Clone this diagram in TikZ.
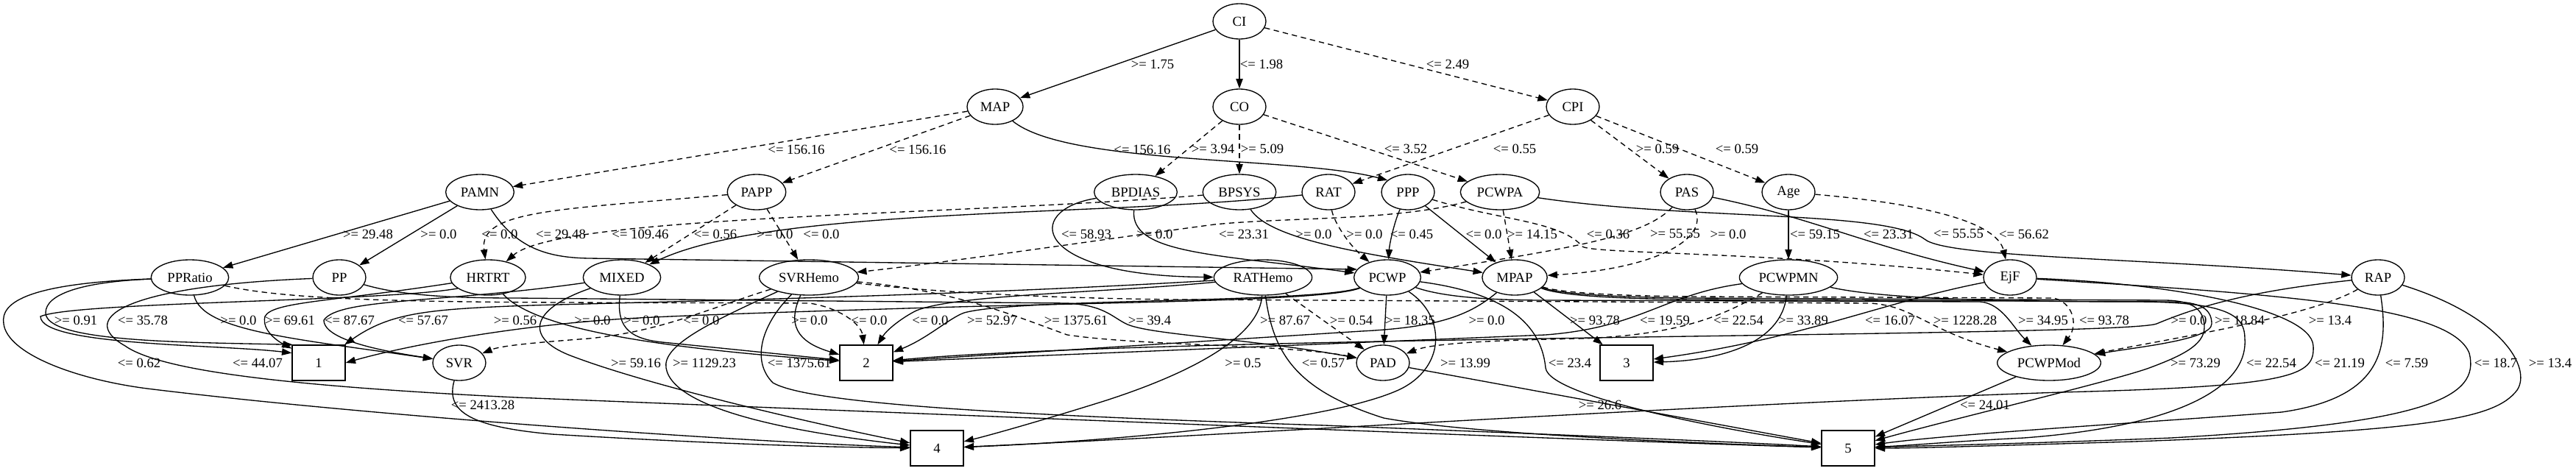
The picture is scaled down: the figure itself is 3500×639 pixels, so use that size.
\documentclass[tikz,border=0pt]{standalone}
\usepackage{fontspec}
\setmainfont{Liberation Serif}
\usepackage{tikz}
\usetikzlibrary{shapes,arrows.meta}
\tikzstyle{feature} = [draw, ellipse, minimum width=54pt, minimum height=36pt, inner xsep=5pt, inner ysep=2pt]
\tikzstyle{leaf} = [draw, rectangle, minimum width=54pt, minimum height=36pt]
\tikzstyle{cond} = [inner sep=0pt]
\tikzstyle{branch} = [draw, ->]
\tikzstyle{dbranch} = [draw, ->, dash pattern=on 5.5pt off 4pt]

\begin{document}
\begin{tikzpicture}[x=0.75pt, y=-0.75pt, line width=1pt, >={Triangle[length=10pt,width=7pt]}, every node/.style={font=\fontsize{14}{16}\selectfont}]
    \fill [white] (0,0) rectangle (3500,639);
    \useasboundingbox (0,0) rectangle (3500,639);

    % the split nodes, row by row
    \node [feature] (CI) at (1684,29) {CI};
    \node [feature] (MAP) at (1352,145) {MAP};
    \node [feature] (CO) at (1684,145) {CO};
    \node [feature] (CPI) at (2137,145) {CPI};
    \node [feature] (PAMN) at (652,261) {PAMN};
    \node [feature] (PAPP) at (1028,261) {PAPP};
    \node [feature] (BPDIAS) at (1543,261) {BPDIAS};
    \node [feature] (BPSYS) at (1684,261) {BPSYS};
    \node [feature] (RAT) at (1805,261) {RAT};
    \node [feature] (PPP) at (1913,261) {PPP};
    \node [feature] (PCWPA) at (2038,261) {PCWPA};
    \node [feature] (PAS) at (2292,261) {PAS};
    \node [feature] (Age) at (2430,261) {Age};
    \node [feature] (PPRatio) at (258,377) {PPRatio};
    \node [feature] (PP) at (461,377) {PP};
    \node [feature] (HRTRT) at (663,377) {HRTRT};
    \node [feature] (MIXED) at (845,377) {MIXED};
    \node [feature] (SVRHemo) at (1099,377) {SVRHemo};
    \node [feature] (RATHemo) at (1716,377) {RATHemo};
    \node [feature] (PCWP) at (1885,377) {PCWP};
    \node [feature] (MPAP) at (2058,377) {MPAP};
    \node [feature] (PCWPMN) at (2430,377) {PCWPMN};
    \node [feature] (EjF) at (2731,377) {EjF};
    \node [feature] (RAP) at (3231,377) {RAP};
    \node [leaf] (l1) at (433,493) {1};
    \node [feature] (SVR) at (624,493) {SVR};
    \node [leaf] (l2) at (1177,493) {2};
    \node [feature] (PAD) at (1879,493) {PAD};
    \node [leaf] (l3) at (2210,493) {3};
    \node [feature] (PCWPMod) at (2784,493) {PCWPMod};
    \node [leaf] (l4) at (1273,609) {4};
    \node [leaf] (l5) at (2511,609) {5};

    % upper splits
    \draw [branch] (CI) -- (MAP) node[cond] at (1566,87) {>= 1.75};
    \draw [branch] (CI) -- (CO) node[cond] at (1714,87) {<= 1.98};
    \draw [dbranch] (CI) -- (CPI) node[cond] at (1967,87) {<= 2.49};
    \draw [dbranch] (MAP) -- (PAMN) node[cond] at (1082,203) {<= 156.16};
    \draw [dbranch] (MAP) -- (PAPP) node[cond] at (1247,203) {<= 156.16};
    \draw [branch] (MAP) .. controls (1450,225) and (1760,212) .. (PPP.150) node[cond] at (1552,203) {<= 156.16};
    \draw [dbranch] (CO) -- (BPDIAS) node[cond] at (1648,202) {>= 3.94};
    \draw [dbranch] (CO) -- (BPSYS) node[cond] at (1715,202) {>= 5.09};
    \draw [dbranch] (CO) -- (PCWPA) node[cond] at (1910,202) {<= 3.52};
    \draw [dbranch] (CPI) -- (RAT) node[cond] at (2058,202) {<= 0.55};
    \draw [dbranch] (CPI) -- (PAS) node[cond] at (2252,202) {>= 0.59};
    \draw [dbranch] (CPI) -- (Age) node[cond] at (2360,202) {<= 0.59};

    % third row to fourth row
    \draw [branch] (PAMN) -- (PPRatio) node[cond] at (500,318) {>= 29.48};
    \draw [branch] (PAMN) -- (PP) node[cond] at (596,318) {>= 0.0};
    \draw [branch] (PAMN) .. controls (700,335) and (740,350) .. (800,351) -- (PCWP.165) node[cond] at (762,318) {<= 29.48};
    \draw [dbranch] (PAPP) .. controls (760,285) and (650,285) .. (HRTRT) node[cond] at (679,318) {<= 0.0};
    \draw [dbranch] (BPSYS) .. controls (1300,293) and (760,292) .. (HRTRT) node[cond] at (870,318) {<= 109.46};
    \draw [dbranch] (PAPP) -- (MIXED) node[cond] at (972,318) {<= 0.56};
    \draw [branch] (RAT) .. controls (1500,295) and (1050,280) .. (MIXED) node[cond] at (1053,318) {>= 0.0};
    \draw [dbranch] (PAPP) -- (SVRHemo) node[cond] at (1116,318) {<= 0.0};
    \draw [branch] (BPDIAS) .. controls (1390,285) and (1400,375) .. (RATHemo) node[cond] at (1476,318) {<= 58.93};
    \draw [branch] (BPDIAS) .. controls (1535,345) and (1650,345) .. (PCWP) node[cond] at (1569,318) {>= 0.0};
    \draw [dbranch] (PCWPA) .. controls (1900,300) and (1750,295) .. (1650,305) .. controls (1550,318) and (1300,355) .. (SVRHemo) node[cond] at (1690,318) {<= 23.31};
    \draw [branch] (BPSYS) .. controls (1725,325) and (1850,345) .. (MPAP) node[cond] at (1785,318) {>= 0.0};
    \draw [dbranch] (RAT) .. controls (1812,300) and (1830,330) .. (PCWP) node[cond] at (1854,318) {>= 0.0};
    \draw [branch] (PPP) .. controls (1895,300) and (1888,330) .. (PCWP) node[cond] at (1918,318) {<= 0.45};
    \draw [branch] (PPP) -- (MPAP) node[cond] at (2016,318) {<= 0.0};
    \draw [dbranch] (PCWPA) -- (MPAP) node[cond] at (2082,318) {>= 14.15};
    \draw [dbranch] (PPP) .. controls (2040,300) and (2120,300) .. (2150,335) .. controls (2165,345) and (2400,342) .. (EjF) node[cond] at (2185,318) {<= 0.36};
    \draw [dbranch] (PAS) .. controls (2235,320) and (2150,335) .. (PCWP) node[cond] at (2276,318) {>= 55.55};
    \draw [dbranch] (PAS) .. controls (2322,325) and (2250,365) .. (MPAP) node[cond] at (2348,318) {>= 0.0};
    \draw [branch] (Age) -- (PCWPMN) node[cond] at (2466,318) {<= 59.15};
    \draw [branch] (PAS) .. controls (2460,295) and (2540,335) .. (EjF) node[cond] at (2566,318) {<= 23.31};
    \draw [branch] (PCWPA) .. controls (2300,300) and (2560,285) .. (2615,325) .. controls (2645,350) and (2900,350) .. (RAP) node[cond] at (2661,318) {<= 55.55};
    \draw [dbranch] (Age) .. controls (2650,280) and (2715,310) .. (EjF) node[cond] at (2750,318) {<= 56.62};

    % fourth row to the leaves, left part
    \draw [branch] (PPRatio) .. controls (110,383) and (62,400) .. (62,425) .. controls (62,465) and (250,465) .. (l1.145) node[cond] at (103,435) {>= 0.91};
    \draw [branch] (PPRatio) .. controls (40,385) and (0,410) .. (5,440) .. controls (10,480) and (100,515) .. (200,528) .. controls (500,565) and (1000,600) .. (l4) node[cond] at (189,493) {<= 0.62};
    \draw [branch] (PPRatio) .. controls (275,450) and (400,460) .. (SVR) node[cond] at (324,435) {>= 0.0};
    \draw [dbranch] (PPRatio) .. controls (420,415) and (700,410) .. (1100,412) .. controls (1140,418) and (1170,440) .. (l2) node[cond] at (1181,435) {<= 0.0};
    \draw [branch] (PP) .. controls (180,388) and (100,430) .. (170,470) .. controls (220,505) and (400,525) .. (700,540) .. controls (1400,568) and (2200,600) .. (l5) node[cond] at (194,435) {<= 35.78};
    \draw [branch] (PP) .. controls (540,400) and (600,405) .. (700,405) -- (1450,412) .. controls (1500,415) and (1510,430) .. (1530,440) .. controls (1560,455) and (1700,460) .. (PAD) node[cond] at (1562,435) {>= 39.4};
    \draw [branch] (HRTRT.200) .. controls (520,410) and (100,410) .. (55,430) .. controls (55,470) and (300,468) .. (l1.160) node[cond] at (350,493) {<= 44.07};
    \draw [branch] (HRTRT) .. controls (450,410) and (370,410) .. (360,430) .. controls (355,450) and (380,465) .. (l1) node[cond] at (394,435) {>= 69.61};
    \draw [branch] (HRTRT) .. controls (720,440) and (850,470) .. (l2) node[cond] at (805,435) {>= 0.0};
    \draw [branch] (MIXED) .. controls (600,412) and (460,405) .. (440,435) .. controls (440,465) and (540,480) .. (SVR) node[cond] at (475,435) {<= 87.67};
    \draw [branch] (MIXED) .. controls (838,440) and (850,460) .. (900,465) -- (l2) node[cond] at (872,435) {>= 0.0};
    \draw [branch] (MIXED) .. controls (720,420) and (710,460) .. (780,485) .. controls (900,530) and (1150,585) .. (l4) node[cond] at (864,493) {>= 59.16};
    \draw [dbranch] (SVRHemo) .. controls (960,420) and (900,450) .. (800,460) .. controls (720,466) and (680,470) .. (SVR) node[cond] at (953,435) {<= 0.0};
    \draw [branch] (SVRHemo) .. controls (1065,450) and (1095,468) .. (l2) node[cond] at (1100,435) {>= 0.0};
    \draw [branch] (SVRHemo) .. controls (960,440) and (900,470) .. (905,500) .. controls (915,560) and (1100,590) .. (l4) node[cond] at (957,493) {>= 1129.23};
    \draw [branch] (SVRHemo) .. controls (1035,440) and (1020,490) .. (1050,520) .. controls (1100,550) and (1400,565) .. (1800,578) .. controls (2100,590) and (2350,600) .. (l5) node[cond] at (1086,493) {<= 1375.61};
    \draw [dbranch] (SVRHemo) .. controls (1300,395) and (1380,430) .. (1450,455) .. controls (1550,470) and (1750,468) .. (PAD) node[cond] at (1462,435) {>= 1375.61};
    \draw [dbranch] (SVRHemo) .. controls (1250,395) and (1400,405) .. (1600,407) -- (2540,412) .. controls (2600,415) and (2620,450) .. (PCWPMod) node[cond] at (2670,435) {>= 1228.28};
    \draw [branch] (SVR) .. controls (605,560) and (640,580) .. (750,590) .. controls (1000,605) and (1150,608) .. (l4) node[cond] at (656,550) {<= 2413.28};

    % fourth row to the leaves, middle part
    \draw [branch] (RATHemo) .. controls (1300,402) and (900,410) .. (720,415) .. controls (580,420) and (530,425) .. (l1) node[cond] at (575,435) {<= 57.67};
    \draw [branch] (RATHemo) .. controls (1500,398) and (1300,400) .. (1245,422) .. controls (1225,432) and (1205,448) .. (l2) node[cond] at (1264,435) {<= 0.0};
    \draw [branch] (RATHemo) .. controls (1712,450) and (1640,500) .. (1500,545) .. controls (1420,570) and (1350,590) .. (l4) node[cond] at (1689,493) {>= 0.5};
    \draw [branch] (RATHemo) .. controls (1730,480) and (1760,530) .. (1880,568) .. controls (2000,590) and (2300,602) .. (l5) node[cond] at (1746,435) {>= 87.67} node[cond] at (1798,493) {<= 0.57};
    \draw [dbranch] (RATHemo) -- (PAD) node[cond] at (1836,435) {>= 0.54};
    \draw [branch] (PCWP) .. controls (1800,410) and (1500,410) .. (1200,420) .. controls (1000,426) and (900,430) .. (850,433) .. controls (700,442) and (550,470) .. (l1.east) node[cond] at (700,435) {>= 0.56};
    \draw [branch] (PCWP) .. controls (1790,412) and (1380,405) .. (1310,425) .. controls (1290,432) and (1260,460) .. (l2) node[cond] at (1348,435) {>= 52.97};
    \draw [branch] (PCWP) -- (PAD) node[cond] at (1916,435) {>= 18.35};
    \draw [branch] (PCWP) .. controls (1965,430) and (1965,500) .. (1900,530) .. controls (1800,575) and (1500,600) .. (l4) node[cond] at (1991,493) {>= 13.99};
    \draw [branch] (PCWP) .. controls (2060,400) and (2095,450) .. (2100,500) .. controls (2105,540) and (2350,585) .. (l5) node[cond] at (2133,493) {<= 23.4};
    \draw [branch] (PCWP) .. controls (1950,400) and (2000,408) .. (2100,408) -- (2690,410) .. controls (2720,412) and (2735,445) .. (PCWPMod) node[cond] at (2776,435) {>= 34.95};
    \draw [branch] (MPAP) .. controls (1995,430) and (1950,445) .. (1850,450) -- (l2) node[cond] at (2020,435) {>= 0.0};
    \draw [branch] (MPAP) -- (l3) node[cond] at (2167,435) {>= 93.78};
    \draw [dbranch] (MPAP) .. controls (2120,398) and (2200,402) .. (2300,403) -- (2790,405) .. controls (2815,410) and (2825,440) .. (PCWPMod) node[cond] at (2859,435) {<= 93.78};
    \draw [branch] (MPAP) .. controls (2120,402) and (2200,406) .. (2300,407) -- (2950,410) .. controls (2990,410) and (3005,420) .. (3005,440) .. controls (3005,462) and (2900,472) .. (PCWPMod) node[cond] at (3043,435) {>= 18.84};
    \draw [branch] (MPAP) .. controls (2120,400) and (2200,404) .. (2300,405) -- (2940,408) .. controls (2985,408) and (2995,425) .. (2995,445) .. controls (2995,470) and (2960,485) .. (2920,500) .. controls (2870,518) and (2650,570) .. (l5) node[cond] at (2983,493) {>= 73.29};
    \draw [branch] (PAD) -- (l5) node[cond] at (2174,550) {>= 26.6};

    % fourth row to the leaves, right part
    \draw [branch] (PCWPMN) .. controls (2260,400) and (2230,445) .. (2100,455) -- (l2) node[cond] at (2262,435) {<= 19.59};
    \draw [dbranch] (PCWPMN) .. controls (2340,430) and (2280,455) .. (2150,460) .. controls (2050,462) and (1950,465) .. (PAD) node[cond] at (2362,435) {<= 22.54};
    \draw [branch] (PCWPMN) .. controls (2420,470) and (2330,490) .. (l3) node[cond] at (2450,435) {>= 33.89};
    \draw [branch] (PCWPMN) .. controls (2550,405) and (2700,410) .. (2900,410) .. controls (3030,410) and (3050,430) .. (3050,460) .. controls (3055,530) and (2950,580) .. (2750,595) .. controls (2650,600) and (2600,605) .. (l5) node[cond] at (3086,493) {<= 22.54};
    \draw [branch] (EjF) .. controls (2560,410) and (2450,460) .. (l3) node[cond] at (2568,435) {<= 16.07};
    \draw [branch] (EjF) .. controls (2950,385) and (3140,420) .. (3143,470) .. controls (3145,510) and (3120,525) .. (2800,533) .. controls (2300,550) and (1700,590) .. (l4) node[cond] at (3179,493) {<= 21.19};
    \draw [branch] (EjF) .. controls (3100,400) and (3330,415) .. (3355,480) .. controls (3370,540) and (3300,575) .. (2950,595) .. controls (2750,603) and (2600,606) .. (l5) node[cond] at (3391,493) {<= 18.7};
    \draw [branch] (RAP) .. controls (3060,395) and (2990,415) .. (2930,440) .. controls (2880,458) and (1600,455) .. (l2) node[cond] at (2974,435) {>= 0.0};
    \draw [dbranch] (RAP) .. controls (3140,430) and (2950,460) .. (PCWPMod) node[cond] at (3166,435) {>= 13.4};
    \draw [branch] (RAP) .. controls (3245,470) and (3240,540) .. (3100,560) .. controls (2900,575) and (2650,590) .. (l5) node[cond] at (3270,493) {<= 7.59};
    \draw [branch] (RAP) .. controls (3400,430) and (3440,500) .. (3420,530) .. controls (3390,570) and (3300,585) .. (2900,600) .. controls (2700,606) and (2600,609) .. (l5) node[cond] at (3465,493) {>= 13.4};
    \draw [branch] (PCWPMod) -- (l5) node[cond] at (2697,550) {<= 24.01};
\end{tikzpicture}
\end{document}
